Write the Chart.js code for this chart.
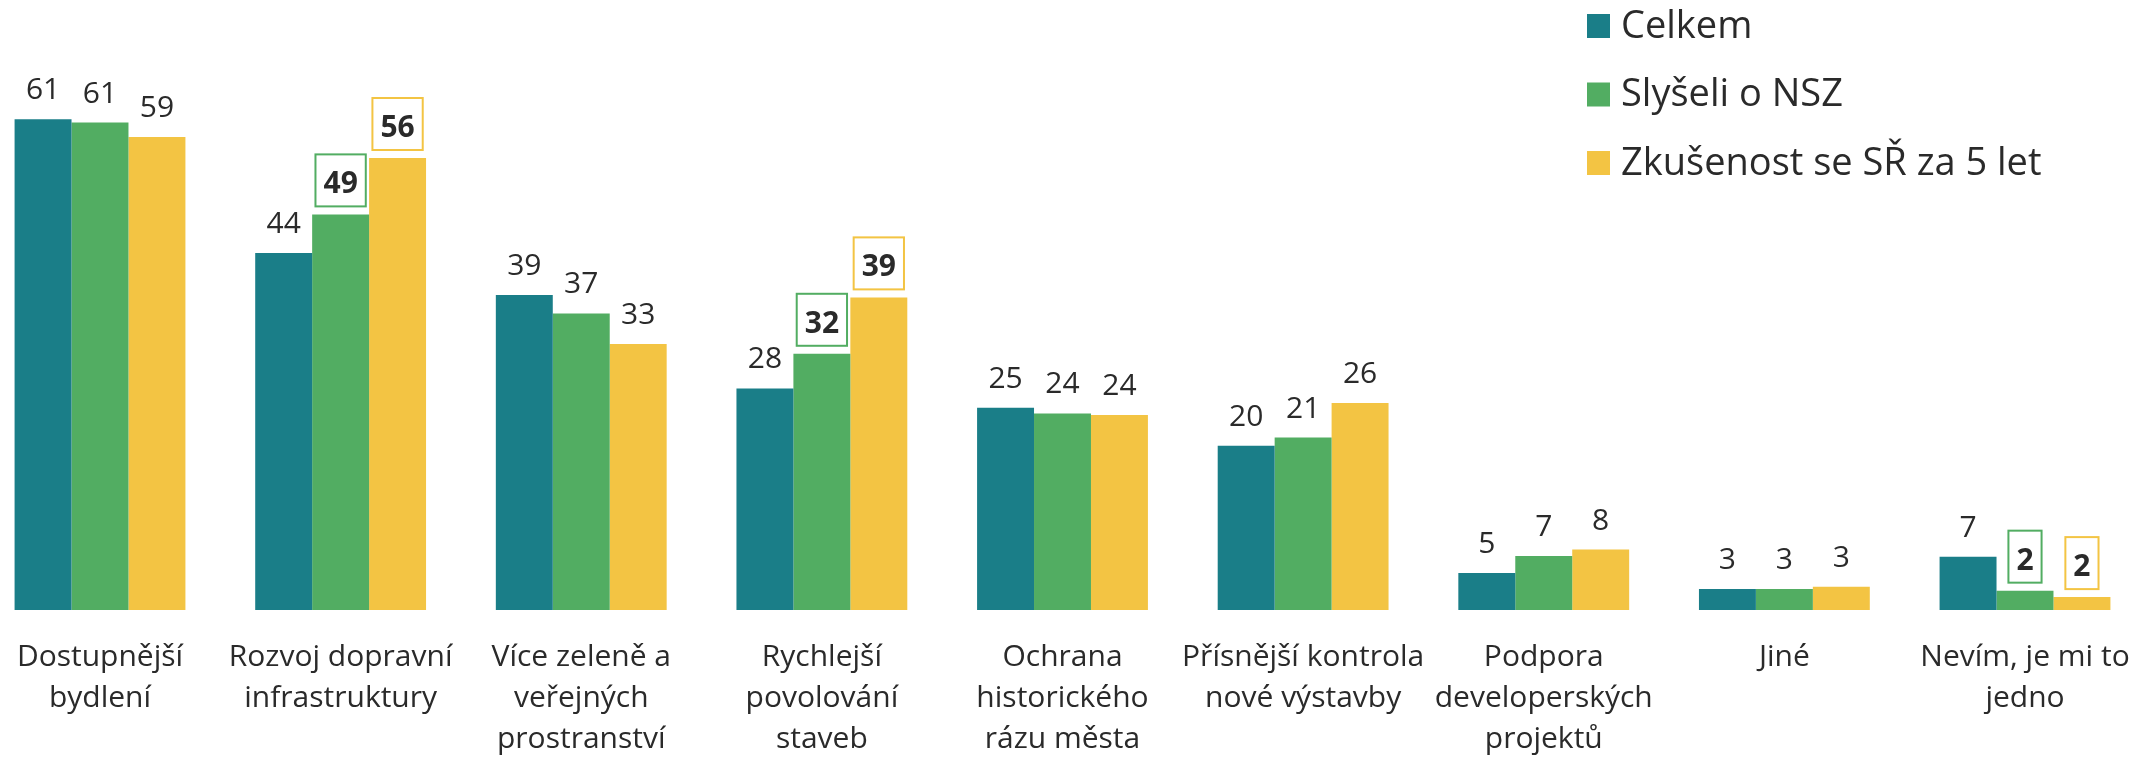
<!DOCTYPE html>
<html>
<head>
<meta charset="utf-8">
<script src="https://cdn.jsdelivr.net/npm/chart.js@4"></script>
<style>
  html, body { margin: 0; padding: 0; background: #fff; }
  #wrap { width: 2156px; height: 760px; }
</style>
</head>
<body>
<div id="wrap"><canvas id="myChart" width="2156" height="760"></canvas></div>
<script>
// data
const categories = [
    ['Dostupnější', 'bydlení'],
    ['Rozvoj dopravní', 'infrastruktury'],
    ['Více zeleně a', 'veřejných', 'prostranství'],
    ['Rychlejší', 'povolování', 'staveb'],
    ['Ochrana', 'historického', 'rázu města'],
    ['Přísnější kontrola', 'nové výstavby'],
    ['Podpora', 'developerských', 'projektů'],
    ['Jiné'],
    ['Nevím, je mi to', 'jedno']
];
const seriesNames = ['Celkem', 'Slyšeli o NSZ', 'Zkušenost se SŘ za 5 let'];
const celkem = [60.9, 44.3, 39.1, 27.5, 25.1, 20.4, 4.6, 2.6, 6.6];
const slyseli = [60.5, 49.1, 36.8, 31.8, 24.4, 21.4, 6.7, 2.6, 2.4];
const zkusenost = [58.7, 56.1, 33.0, 38.8, 24.2, 25.7, 7.5, 2.9, 1.6];
// which bars get the boxed bold label
const boxedSlyseli = [1, 3, 8];
const boxedZkusenost = [1, 3, 8];

const colors = ['#1a7e88', '#52ad62', '#f3c443'];
const textColor = '#2a2a2a';
const fontFamily = '"Open Sans", sans-serif';

// value labels above bars
const valueLabels = {
    id: 'valueLabels',
    afterDatasetsDraw(chart) {
        const ctx = chart.ctx;
        const boxed = [[], boxedSlyseli, boxedZkusenost];
        ctx.save();
        ctx.textAlign = 'center';
        ctx.textBaseline = 'alphabetic';
        chart.data.datasets.forEach((ds, i) => {
            const meta = chart.getDatasetMeta(i);
            meta.data.forEach((bar, j) => {
                const text = String(Math.round(ds.data[j]));
                if (boxed[i].includes(j)) {
                    ctx.font = 'bold 30px ' + fontFamily;
                    const w = ctx.measureText(text).width + 16;
                    const h = 52;
                    const bottom = bar.y - 8;
                    ctx.fillStyle = '#fff';
                    ctx.fillRect(bar.x - w / 2, bottom - h, w, h);
                    ctx.strokeStyle = ds.backgroundColor;
                    ctx.lineWidth = 2;
                    ctx.strokeRect(bar.x - w / 2, bottom - h, w, h);
                    ctx.fillStyle = textColor;
                    ctx.fillText(text, bar.x, bottom - 13);
                } else {
                    ctx.font = '30px ' + fontFamily;
                    ctx.fillStyle = textColor;
                    ctx.fillText(text, bar.x, bar.y - 20);
                }
            });
        });
        ctx.restore();
    }
};

// legend stacked in the top right corner
const cornerLegend = {
    id: 'cornerLegend',
    afterDraw(chart) {
        const ctx = chart.ctx;
        ctx.save();
        ctx.font = '38px ' + fontFamily;
        ctx.textAlign = 'left';
        ctx.textBaseline = 'middle';
        chart.data.datasets.forEach((ds, i) => {
            const cy = 26 + i * 68.5;
            ctx.fillStyle = ds.backgroundColor;
            ctx.fillRect(1587, cy - 12, 23, 24);
            ctx.fillStyle = textColor;
            ctx.fillText(ds.label, 1621, cy + 1);
        });
        ctx.restore();
    }
};

const ctx = document.getElementById('myChart').getContext('2d');
const myChart = new Chart(ctx, {
    type: 'bar',
    data: {
        labels: categories,
        datasets: [
            { label: seriesNames[0], data: celkem, backgroundColor: colors[0] },
            { label: seriesNames[1], data: slyseli, backgroundColor: colors[1] },
            { label: seriesNames[2], data: zkusenost, backgroundColor: colors[2] }
        ]
    },
    options: {
        responsive: false,
        animation: false,
        layout: {
            padding: { left: 100, right: 131, top: 46, bottom: 0 }
        },
        datasets: {
            bar: {
                categoryPercentage: 0.71,
                barPercentage: 1,
                borderWidth: 0,
                clip: false
            }
        },
        scales: {
            x: {
                offset: false,
                grid: { display: false, drawTicks: false },
                border: { display: false },
                ticks: {
                    color: textColor,
                    font: { family: fontFamily, size: 30, lineHeight: 1.37 },
                    padding: 27,
                    maxRotation: 0,
                    autoSkip: false
                },
                afterFit(scale) {
                    scale.height = 150;
                    // labels fit inside the layout padding, keep the plot edges fixed
                    scale.paddingLeft = 0;
                    scale.paddingRight = 0;
                }
            },
            y: {
                display: false,
                min: 0,
                max: 70
            }
        },
        plugins: {
            legend: { display: false },
            tooltip: { enabled: false }
        }
    },
    plugins: [valueLabels, cornerLegend]
});
</script>
</body>
</html>
